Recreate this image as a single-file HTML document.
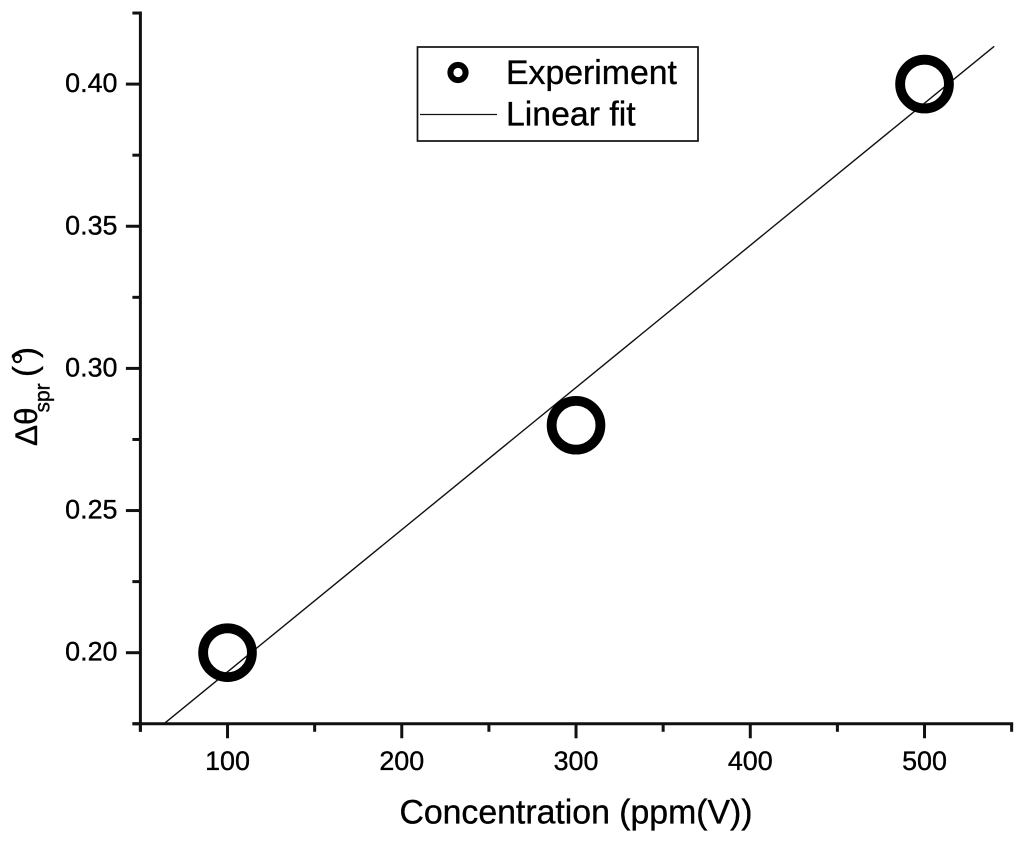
<!DOCTYPE html>
<html>
<head>
<meta charset="utf-8">
<title>Concentration chart</title>
<style>
html,body{margin:0;padding:0;background:#fff;}
svg{display:block;}
text,tspan{font-family:"Liberation Sans",Arial,sans-serif;fill:#000;stroke:#000;stroke-width:0.35px;}
</style>
</head>
<body>
<svg id="chart" xmlns="http://www.w3.org/2000/svg" width="1024" height="842" viewBox="0 0 1024 842">
<rect x="0" y="0" width="1024" height="842" fill="#fff"/>
<g id="series"></g>
<g id="axes"></g>
<text x="576" y="823.5" font-size="33.8" text-anchor="middle">Concentration (ppm(V))</text>
<g>
<text transform="translate(37,446) rotate(-90)" font-size="31.5">Δθ</text>
<text transform="translate(49.5,412.5) rotate(-90)" font-size="21">spr</text>
<text transform="translate(36,377) rotate(-90)" font-size="33">(</text>
<text transform="translate(36,365) rotate(-90)" font-size="33">°</text>
<text transform="translate(36,358) rotate(-90)" font-size="33">)</text>
</g>
<g>
<rect x="417.5" y="47" width="280.5" height="94" fill="#fff" stroke="#111" stroke-width="1.7"/>
<circle cx="458" cy="72.5" r="7.6" fill="none" stroke="#000" stroke-width="6"/>
<text x="506" y="84" font-size="33.8">Experiment</text>
<line x1="420" y1="114.5" x2="497" y2="114.5" stroke="#111" stroke-width="1.3"/>
<text x="506" y="125.5" font-size="33.8">Linear fit</text>
</g>
</svg>
<script>
const concentrations = [100, 300, 500];
const experimentValues = [0.20, 0.28, 0.40];
const fitConcentrations = [63.5, 540];
const fitValues = [0.175, 0.4133];
const xMajorTicks = [100, 200, 300, 400, 500];
const xMinorTicks = [50, 150, 250, 350, 450, 550];
const yMajorTicks = [0.20, 0.25, 0.30, 0.35, 0.40];
const yMinorTicks = [0.175, 0.225, 0.275, 0.325, 0.375, 0.425];

const NS = 'http://www.w3.org/2000/svg';
const xScale = function (v) { return 140.4 + (v - 50) * 1.7425; };
const yScale = function (v) { return 652.7 - (v - 0.20) * 2843; };
const axes = document.getElementById('axes');
const series = document.getElementById('series');

function make(tag, parent, attrs) {
  const el = document.createElementNS(NS, tag);
  Object.keys(attrs).forEach(function (k) { el.setAttribute(k, attrs[k]); });
  parent.appendChild(el);
  return el;
}

const fitLine = make('line', series, {
  x1: xScale(fitConcentrations[0]), y1: yScale(fitValues[0]),
  x2: xScale(fitConcentrations[1]), y2: yScale(fitValues[1]),
  stroke: '#111', 'stroke-width': 1.4
});



concentrations.forEach(function (c, i) {
  const pt = make('circle', series, {
    cx: xScale(c), cy: yScale(experimentValues[i]), r: 24.4,
    fill: 'none', stroke: '#000', 'stroke-width': 9.8
  });
  
  
});

const xAxisLine = make('line', axes, {
  x1: xScale(50) - 8, y1: yScale(0.175), x2: xScale(550) + 1.5, y2: yScale(0.175),
  stroke: '#111', 'stroke-width': 3
});



const yAxisLine = make('line', axes, {
  x1: xScale(50), y1: yScale(0.425) - 1.5, x2: xScale(50), y2: yScale(0.175) + 8,
  stroke: '#111', 'stroke-width': 3
});



xMajorTicks.forEach(function (v) {
  const t = make('line', axes, {
    x1: xScale(v), y1: yScale(0.175), x2: xScale(v), y2: yScale(0.175) + 14.5,
    stroke: '#111', 'stroke-width': 3
  });
  
  
  const lab = make('text', axes, { x: xScale(v), y: 770, 'font-size': 26.9, 'text-anchor': 'middle' });
  
  
  lab.textContent = String(v);
});
xMinorTicks.forEach(function (v) {
  const t = make('line', axes, {
    x1: xScale(v), y1: yScale(0.175), x2: xScale(v), y2: yScale(0.175) + 8,
    stroke: '#111', 'stroke-width': 3
  });
  
  
});
yMajorTicks.forEach(function (v) {
  const t = make('line', axes, {
    x1: xScale(50) - 14.5, y1: yScale(v), x2: xScale(50), y2: yScale(v),
    stroke: '#111', 'stroke-width': 3
  });
  
  
  const lab = make('text', axes, { x: 117.5, y: yScale(v) + 8, 'font-size': 26.9, 'text-anchor': 'end' });
  
  
  lab.textContent = v.toFixed(2);
});
yMinorTicks.forEach(function (v) {
  const t = make('line', axes, {
    x1: xScale(50) - 8, y1: yScale(v), x2: xScale(50), y2: yScale(v),
    stroke: '#111', 'stroke-width': 3
  });
  
  
});
</script>
</body>
</html>
